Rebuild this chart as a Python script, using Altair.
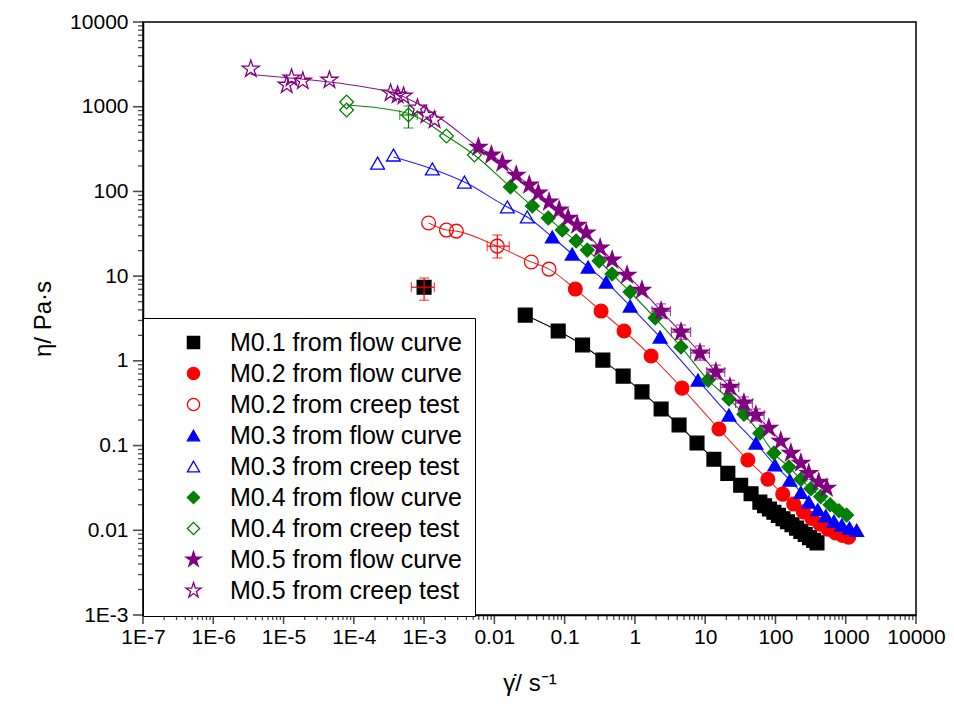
import altair as alt
import pandas as pd

# ---------------- data ----------------
series_names = [
    "M0.1 from flow curve", "M0.2 from flow curve", "M0.2 from creep test",
    "M0.3 from flow curve", "M0.3 from creep test", "M0.4 from flow curve",
    "M0.4 from creep test", "M0.5 from flow curve", "M0.5 from creep test",
]
series_colors = ["#000000", "#FF0000", "#FF0000", "#0000FF", "#0000FF",
                 "#007F00", "#007F00", "#800080", "#800080"]
STAR = ("M0,-1.3L0.292,-0.402L1.236,-0.402L0.472,0.153L0.764,1.052L0,0.497L-0.764,1.052"
        "L-0.472,0.153L-1.236,-0.402L-0.292,-0.402Z")
series_shapes = ["square", "circle", "circle", "triangle-up", "triangle-up",
                 "diamond", "diamond", STAR, STAR]
series_fills = ["#000000", "#FF0000", "transparent", "#0000FF", "transparent",
                "#007F00", "transparent", "#800080", "transparent"]

m01_flow_x = [1.0e-3, 0.0275, 0.081, 0.18, 0.35, 0.68, 1.26, 2.36, 4.25, 7.65, 13.3, 21, 32, 45, 60,
              70, 82, 95, 110, 128, 148, 172, 200, 230, 265, 305, 350, 390]
m01_flow_y = [7.4, 3.47, 2.25, 1.54, 1.02, 0.66, 0.43, 0.27, 0.175, 0.107, 0.069, 0.047, 0.034, 0.027, 0.0215,
              0.0195, 0.0178, 0.0163, 0.015, 0.0137, 0.0126, 0.0116, 0.0106, 0.0097, 0.0089, 0.0082, 0.0076, 0.0071]

m02_flow_x = [0.142, 0.33, 0.70, 1.70, 4.68, 15.7, 40.5, 78, 127, 182, 250, 330, 430, 560, 720, 900, 1100]
m02_flow_y = [7.04, 3.87, 2.25, 1.14, 0.477, 0.157, 0.0675, 0.040, 0.0267, 0.0204, 0.0165, 0.0138,
              0.0118, 0.0103, 0.0093, 0.0087, 0.0083]
m02_creep_x = [1.16e-3, 2.08e-3, 2.88e-3, 0.011, 0.0336, 0.06]
m02_creep_y = [42.4, 35, 34, 22.6, 14.7, 12.1]

m03_flow_x = [0.0667, 0.128, 0.216, 0.39, 0.855, 2.28, 7.9, 21.8, 52.7, 98, 160, 230, 298, 400, 520,
              680, 880, 1130, 1430]
m03_flow_y = [29, 18.2, 12.8, 8.5, 4.43, 1.91, 0.593, 0.229, 0.107, 0.059, 0.039, 0.028, 0.0215, 0.0175,
              0.0148, 0.0128, 0.0115, 0.0106, 0.0100]
m03_creep_x = [2.18e-4, 3.67e-4, 1.31e-3, 3.75e-3, 0.0153, 0.0294]
m03_creep_y = [216, 269, 184, 129, 65.5, 49.9]

m04_flow_x = [0.0169, 0.0347, 0.0585, 0.0925, 0.146, 0.21, 0.31, 0.474, 0.855, 1.94, 4.53, 11, 21.8, 35.6,
              60, 95, 155, 230, 320, 440, 600, 800, 1030]
m04_flow_y = [113, 67.2, 48.5, 35, 26, 20.3, 15.1, 10.6, 6.5, 3.2, 1.46, 0.593, 0.354, 0.235, 0.14,
              0.0815, 0.0557, 0.040, 0.031, 0.025, 0.020, 0.017, 0.0151]
m04_creep_x = [7.9e-5, 7.9e-5, 6.0e-4, 2.08e-3, 5.2e-3]
m04_creep_y = [1136, 914, 798, 451, 269]

m05_flow_x = [5.93e-3, 9.06e-3, 0.013, 0.0205, 0.0314, 0.0422, 0.06, 0.0837, 0.112, 0.151, 0.203, 0.32,
              0.474, 0.774, 1.26, 2.36, 4.53, 8.43, 14.2, 22.5, 35.6, 52.7, 80.5, 119, 166, 230, 298, 413, 537]
m05_flow_y = [334, 269, 216, 156, 119, 95.7, 75, 60.3, 48.5, 40.1, 32.3, 21.5, 15.5, 10.3, 6.85, 3.87,
              2.19, 1.24, 0.738, 0.49, 0.318, 0.229, 0.161, 0.113, 0.0815, 0.062, 0.047, 0.037, 0.0315]
m05_creep_x = [3.42e-6, 1.11e-5, 1.3e-5, 1.88e-5, 4.5e-5, 3.33e-4, 4.2e-4, 5.1e-4, 8.05e-4, 1.08e-3, 1.41e-3]
m05_creep_y = [2790, 1804, 2183, 2010, 2066, 1452, 1374, 1337, 966, 798, 697]

# model (fit) curves drawn through the data
fit_names = ["M0.1", "M0.2", "M0.3", "M0.4", "M0.5"]
fit_colors = ["#000000", "#F03030", "#2020FF", "#108010", "#8A108A"]
fit_m01_x = m01_flow_x[1:]
fit_m01_y = m01_flow_y[1:]
fit_m02_x = m02_creep_x + m02_flow_x
fit_m02_y = m02_creep_y + m02_flow_y
fit_m03_x = [3.67e-4, 1.31e-3, 3.75e-3, 0.0153, 0.0294] + m03_flow_x
fit_m03_y = [255, 184, 129, 65.5, 49.9] + m03_flow_y
fit_m04_x = [7.9e-5, 6.0e-4, 2.08e-3, 5.2e-3] + m04_flow_x
fit_m04_y = [1047, 830, 451, 269] + m04_flow_y
fit_m05_x = [3.42e-6, 1.5e-5, 4.5e-5, 1.5e-4, 3.33e-4, 8.0e-4, 2.0e-3] + m05_flow_x
fit_m05_y = [2400, 2150, 1960, 1700, 1490, 1100, 664] + m05_flow_y

# error bars (series, x, y, x low, x high, y low, y high, colour)
err_series = ["M0.1 from flow curve", "M0.2 from creep test", "M0.4 from creep test",
              "M0.5 from flow curve", "M0.5 from flow curve", "M0.5 from flow curve", "M0.5 from flow curve",
              "M0.5 from flow curve", "M0.5 from flow curve", "M0.5 from flow curve"]
err_x = [1.0e-3, 0.011, 6.0e-4, 2.36, 4.53, 8.43, 14.2, 22.5, 35.6, 52.7]
err_y = [7.4, 22.6, 798, 3.87, 2.19, 1.24, 0.738, 0.49, 0.318, 0.229]
err_xlo = [6.6e-4, 7.9e-3, 4.5e-4, 1.75, 3.3, 6.2, 10.5, 16.5, 27, 40]
err_xhi = [1.4e-3, 0.0163, 8.0e-4, 3.2, 6.2, 11.5, 19, 30, 47, 69]
err_ylo = [5.2, 16.4, 561, 3.2, 1.8, 1.02, 0.61, 0.41, 0.27, 0.195]
err_yhi = [9.5, 30.6, 1019, 4.7, 2.65, 1.5, 0.89, 0.59, 0.375, 0.27]
err_color = ["#FF0000", "#FF0000", "#007F00", "#800080", "#800080", "#800080", "#800080",
             "#800080", "#800080", "#800080"]

x_tick_values = [1e-7, 1e-6, 1e-5, 1e-4, 1e-3, 0.01, 0.1, 1, 10, 100, 1000, 10000]
x_tick_labels = ["1E-7", "1E-6", "1E-5", "1E-4", "1E-3", "0.01", "0.1", "1", "10", "100", "1000", "10000"]
y_tick_values = [1e-3, 0.01, 0.1, 1, 10, 100, 1000, 10000]
y_tick_labels = ["1E-3", "0.01", "0.1", "1", "10", "100", "1000", "10000"]

# ---------------- tables ----------------
pts_lists = [
    (series_names[0], m01_flow_x, m01_flow_y),
    (series_names[2], m02_creep_x, m02_creep_y),
    (series_names[1], m02_flow_x, m02_flow_y),
    (series_names[4], m03_creep_x, m03_creep_y),
    (series_names[3], m03_flow_x, m03_flow_y),
    (series_names[6], m04_creep_x, m04_creep_y),
    (series_names[5], m04_flow_x, m04_flow_y),
    (series_names[8], m05_creep_x, m05_creep_y),
    (series_names[7], m05_flow_x, m05_flow_y),
]
rows = []
for k, (name, xs_, ys_) in enumerate(pts_lists):
    for xv, yv in zip(xs_, ys_):
        rows.append({"series": name, "x": xv, "y": yv, "layer": k})
pts = pd.DataFrame(rows)

fit_lists = [(fit_m01_x, fit_m01_y), (fit_m02_x, fit_m02_y), (fit_m03_x, fit_m03_y),
             (fit_m04_x, fit_m04_y), (fit_m05_x, fit_m05_y)]
frows = []
for name, (xs_, ys_) in zip(fit_names, fit_lists):
    for xv, yv in zip(xs_, ys_):
        frows.append({"material": name, "x": xv, "y": yv})
fits = pd.DataFrame(frows)

errs = pd.DataFrame({"series": err_series, "x": err_x, "y": err_y, "xlo": err_xlo, "xhi": err_xhi,
                     "ylo": err_ylo, "yhi": err_yhi, "ecol": err_color})


def minor_only(majors):
    out = []
    for m in majors[:-1]:
        for k in range(2, 10):
            out.append(float(f"{k * m:.12g}"))
    return out


def label_expr(vals, labs):
    e = "''"
    for v, l in zip(reversed(vals), reversed(labs)):
        e = f"(datum.value == {v!r} ? '{l}' : {e})"
    return e


x_minor = minor_only(x_tick_values)
y_minor = minor_only(y_tick_values)
xticks_major = pd.DataFrame({"v": x_tick_values})
xticks_minor = pd.DataFrame({"v": x_minor})
yticks_major = pd.DataFrame({"v": y_tick_values})
yticks_minor = pd.DataFrame({"v": y_minor})

FONT = "Liberation Sans"
PLOT_W, PLOT_H = 773, 593

x_axis = alt.Axis(orient="bottom", values=x_tick_values, ticks=False,
                  labelExpr=label_expr(x_tick_values, x_tick_labels),
                  labelOverlap=False, labelFontSize=21, labelFont=FONT, labelColor="black",
                  labelPadding=11, labelFlush=False, grid=False, domainColor="black", domainWidth=1.5,
                  title="γ̇/ s⁻¹", titleFontSize=24, titleFont=FONT,
                  titleFontWeight="normal", titleColor="black", titlePadding=24)
y_axis = alt.Axis(orient="left", values=y_tick_values, ticks=False,
                  labelExpr=label_expr(y_tick_values, y_tick_labels),
                  labelOverlap=False, labelFontSize=21, labelFont=FONT, labelColor="black",
                  labelPadding=15, labelFlush=False, grid=False, domainColor="black", domainWidth=1.5,
                  title="η/ Pa·s", titleFontSize=24, titleFont=FONT,
                  titleFontWeight="normal", titleColor="black", titlePadding=14)

xs = alt.Scale(type="log", domain=[1e-7, 1e4], nice=False)
ys = alt.Scale(type="log", domain=[1e-3, 1e4], nice=False)

lines = alt.Chart(fits).mark_line(strokeWidth=1.1, interpolate="monotone").encode(
    x=alt.X("x:Q", scale=xs, axis=x_axis), y=alt.Y("y:Q", scale=ys, axis=y_axis),
    color=alt.Color("material:N", scale=alt.Scale(domain=fit_names, range=fit_colors), legend=None),
    order="x:Q",
)

legend = alt.Legend(title=None, orient="none", legendX=0, legendY=296, strokeColor="black",
                    fillColor="white", padding=12, labelFontSize=25, labelFont=FONT, labelColor="black",
                    symbolSize=150, symbolStrokeWidth=1.3, rowPadding=5, symbolOffset=26,
                    labelOffset=24, labelLimit=400, cornerRadius=0)

points = alt.Chart(pts).mark_point(size=190, strokeWidth=1.3, opacity=1, fillOpacity=1).encode(
    x=alt.X("x:Q", scale=xs, axis=x_axis), y=alt.Y("y:Q", scale=ys, axis=y_axis),
    shape=alt.Shape("series:N", scale=alt.Scale(domain=series_names, range=series_shapes), legend=legend),
    fill=alt.Fill("series:N", scale=alt.Scale(domain=series_names, range=series_fills), legend=legend),
    stroke=alt.Stroke("series:N", scale=alt.Scale(domain=series_names, range=series_colors), legend=legend),
    order="layer:Q",
)

ecol = alt.Color("ecol:N", scale=None)
vrule = alt.Chart(errs).mark_rule(strokeWidth=1.2).encode(
    x=alt.X("x:Q", scale=xs), y=alt.Y("ylo:Q", scale=ys), y2="yhi:Q", color=ecol)
hrule = alt.Chart(errs).mark_rule(strokeWidth=1.2).encode(
    y=alt.Y("y:Q", scale=ys), x=alt.X("xlo:Q", scale=xs), x2="xhi:Q", color=ecol)
cap_lo = alt.Chart(errs).mark_tick(orient="horizontal", size=10, thickness=1.2).encode(
    x=alt.X("x:Q", scale=xs), y=alt.Y("ylo:Q", scale=ys), color=ecol)
cap_hi = alt.Chart(errs).mark_tick(orient="horizontal", size=10, thickness=1.2).encode(
    x=alt.X("x:Q", scale=xs), y=alt.Y("yhi:Q", scale=ys), color=ecol)
capx_lo = alt.Chart(errs).mark_tick(orient="vertical", size=10, thickness=1.2).encode(
    x=alt.X("xlo:Q", scale=xs), y=alt.Y("y:Q", scale=ys), color=ecol)
capx_hi = alt.Chart(errs).mark_tick(orient="vertical", size=10, thickness=1.2).encode(
    x=alt.X("xhi:Q", scale=xs), y=alt.Y("y:Q", scale=ys), color=ecol)

# axis tick marks: mark_tick placed on the scale, offset outside the plot edge
xt_major = alt.Chart(xticks_major).mark_tick(orient="vertical", size=9, thickness=1.6, color="black",
                                             yOffset=4.5, clip=False).encode(
    x=alt.X("v:Q", scale=xs), y=alt.value(PLOT_H))
xt_minor = alt.Chart(xticks_minor).mark_tick(orient="vertical", size=5, thickness=1.3, color="black",
                                             yOffset=2.5, clip=False).encode(
    x=alt.X("v:Q", scale=xs), y=alt.value(PLOT_H))
yt_major = alt.Chart(yticks_major).mark_tick(orient="horizontal", size=10, thickness=1.6, color="black",
                                             xOffset=-5, clip=False).encode(
    y=alt.Y("v:Q", scale=ys), x=alt.value(0))
yt_minor = alt.Chart(yticks_minor).mark_tick(orient="horizontal", size=5, thickness=1.3, color="black",
                                             xOffset=-2.5, clip=False).encode(
    y=alt.Y("v:Q", scale=ys), x=alt.value(0))

chart = alt.layer(lines, points, vrule, hrule, cap_lo, cap_hi, capx_lo, capx_hi,
                  xt_major, xt_minor, yt_major, yt_minor).resolve_scale(
    color="independent"
).properties(
    width=PLOT_W, height=PLOT_H,
    padding={"left": 143, "top": 22, "right": 38, "bottom": 98},
    autosize=alt.AutoSizeParams(type="none"),
    background="white",
).configure_view(stroke="black", strokeWidth=1.5)

chart.save("out.html", embed_options={"renderer": "svg", "actions": False})
